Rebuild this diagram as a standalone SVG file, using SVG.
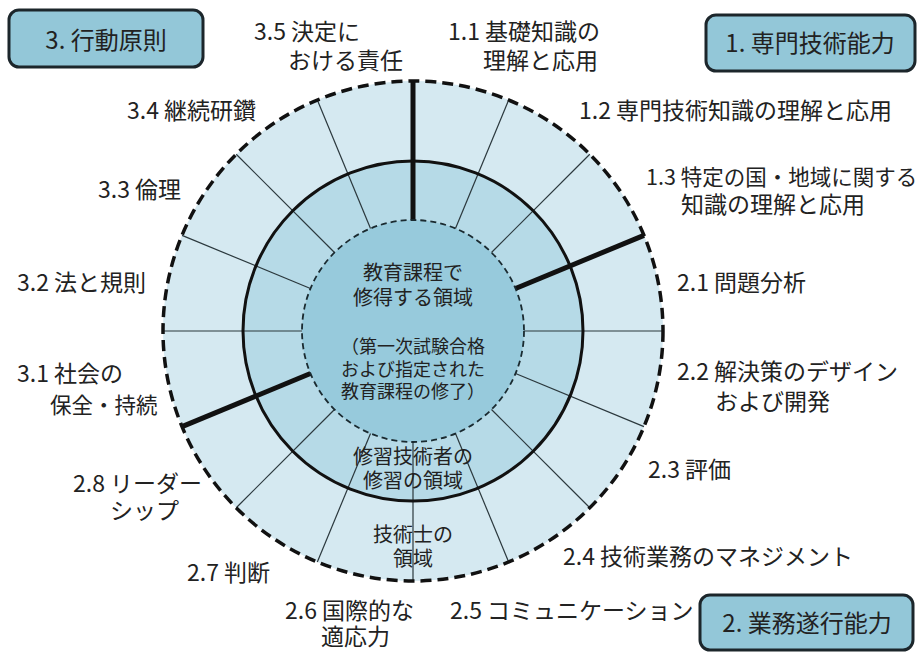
<svg xmlns="http://www.w3.org/2000/svg" width="923" height="652" viewBox="0 0 923 652">
<defs>
<style>
text{font-family:"Noto Sans CJK JP","Noto Sans",sans-serif;fill:#222}
.lbl{font-size:23px}
.box rect{fill:#93c7d8;stroke:#1c262b;stroke-width:3}
.box text{font-size:24px;text-anchor:middle}
.ctr{text-anchor:middle}
.thin{stroke:#2b383d;stroke-width:1.2;fill:none}
.thick{stroke:#111;stroke-width:5;fill:none}
</style>
</defs>
<rect width="923" height="652" fill="#fff"/>

<g id="rings">
<circle id="ring-outer-fill" cx="413" cy="331" r="250" fill="#d5e9f1"/>
<circle id="ring-middle-fill" cx="413" cy="331" r="170" fill="#b6dae7"/>
<circle id="ring-inner-fill" cx="413" cy="331" r="111" fill="#97cadc"/>
</g>

<g id="connectors">
<line class="thin" x1="524" y1="331" x2="663" y2="331"/>
<line class="thick" x1="515.55" y1="288.52" x2="643.97" y2="235.33"/>
<line class="thin" x1="491.49" y1="252.51" x2="589.78" y2="154.22"/>
<line class="thin" x1="455.48" y1="228.45" x2="508.67" y2="100.03"/>
<line class="thick" x1="413" y1="220" x2="413" y2="81"/>
<line class="thin" x1="370.52" y1="228.45" x2="317.33" y2="100.03"/>
<line class="thin" x1="334.51" y1="252.51" x2="236.22" y2="154.22"/>
<line class="thin" x1="310.45" y1="288.52" x2="182.03" y2="235.33"/>
<line class="thin" x1="302" y1="331" x2="163" y2="331"/>
<line class="thick" x1="310.45" y1="373.48" x2="182.03" y2="426.67"/>
<line class="thin" x1="334.51" y1="409.49" x2="236.22" y2="507.78"/>
<line class="thin" x1="370.52" y1="433.55" x2="317.33" y2="561.97"/>
<line class="thin" x1="413" y1="442" x2="413" y2="581"/>
<line class="thin" x1="455.48" y1="433.55" x2="508.67" y2="561.97"/>
<line class="thin" x1="491.49" y1="409.49" x2="589.78" y2="507.78"/>
<line class="thin" x1="515.55" y1="373.48" x2="643.97" y2="426.67"/>
</g>

<g id="ring-strokes">
<circle cx="413" cy="331" r="250" fill="none" stroke="#111" stroke-width="3.5" stroke-dasharray="11 6"/>
<circle cx="413" cy="331" r="170" fill="none" stroke="#111" stroke-width="3"/>
<circle cx="413" cy="331" r="111" fill="none" stroke="#1a2a30" stroke-width="1.8" stroke-dasharray="6 4"/>
</g>

<g id="area-education">
<text class="ctr" x="413" y="280" font-size="20">教育課程で</text>
<text class="ctr" x="413" y="305" font-size="20">修得する領域</text>
<text class="ctr" x="413" y="353" font-size="18">（第一次試験合格</text>
<text class="ctr" x="413" y="376" font-size="18">および指定された</text>
<text class="ctr" x="413" y="398" font-size="18">教育課程の修了）</text>
</g>
<g id="area-trainee">
<text class="ctr" x="413" y="464" font-size="20">修習技術者の</text>
<text class="ctr" x="413" y="488" font-size="20">修習の領域</text>
</g>
<g id="area-engineer">
<text class="ctr" x="413" y="542" font-size="20">技術士の</text>
<text class="ctr" x="413" y="566" font-size="20">領域</text>
</g>

<g id="box-3" class="box"><rect x="9" y="10" width="194" height="57" rx="10"/><text x="106" y="49">3. 行動原則</text></g>
<g id="box-1" class="box"><rect x="706" y="15" width="209" height="56" rx="10"/><text x="810" y="52">1. 専門技術能力</text></g>
<g id="box-2" class="box"><rect x="700" y="595" width="213" height="55" rx="10"/><text x="807" y="632">2. 業務遂行能力</text></g>

<g id="label-3-5" class="lbl"><text x="254" y="40">3.5 決定に</text><text x="288" y="69">おける責任</text></g>
<g id="label-1-1" class="lbl"><text x="448" y="40">1.1 基礎知識の</text><text x="483" y="69">理解と応用</text></g>
<g id="label-1-2" class="lbl"><text x="579" y="119">1.2 専門技術知識の理解と応用</text></g>
<g id="label-1-3" class="lbl"><text x="646" y="185" font-size="21.5">1.3 特定の国・地域に関する</text><text x="681" y="213">知識の理解と応用</text></g>
<g id="label-2-1" class="lbl"><text x="677" y="291">2.1 問題分析</text></g>
<g id="label-2-2" class="lbl"><text x="677" y="380">2.2 解決策のデザイン</text><text x="715" y="410">および開発</text></g>
<g id="label-2-3" class="lbl"><text x="648" y="478">2.3 評価</text></g>
<g id="label-2-4" class="lbl"><text x="563" y="565">2.4 技術業務のマネジメント</text></g>
<g id="label-2-5" class="lbl"><text x="450" y="619">2.5 コミュニケーション</text></g>
<g id="label-2-6" class="lbl"><text x="285" y="619">2.6 国際的な</text><text x="321" y="645">適応力</text></g>
<g id="label-2-7" class="lbl"><text x="187" y="581">2.7 判断</text></g>
<g id="label-2-8" class="lbl"><text x="73" y="492">2.8 リーダー</text><text x="110" y="519">シップ</text></g>
<g id="label-3-1" class="lbl"><text x="17" y="382">3.1 社会の</text><text x="50" y="413" font-size="21.5">保全・持続</text></g>
<g id="label-3-2" class="lbl"><text x="17" y="291">3.2 法と規則</text></g>
<g id="label-3-3" class="lbl"><text x="98" y="198">3.3 倫理</text></g>
<g id="label-3-4" class="lbl"><text x="127" y="119">3.4 継続研鑽</text></g>
</svg>
